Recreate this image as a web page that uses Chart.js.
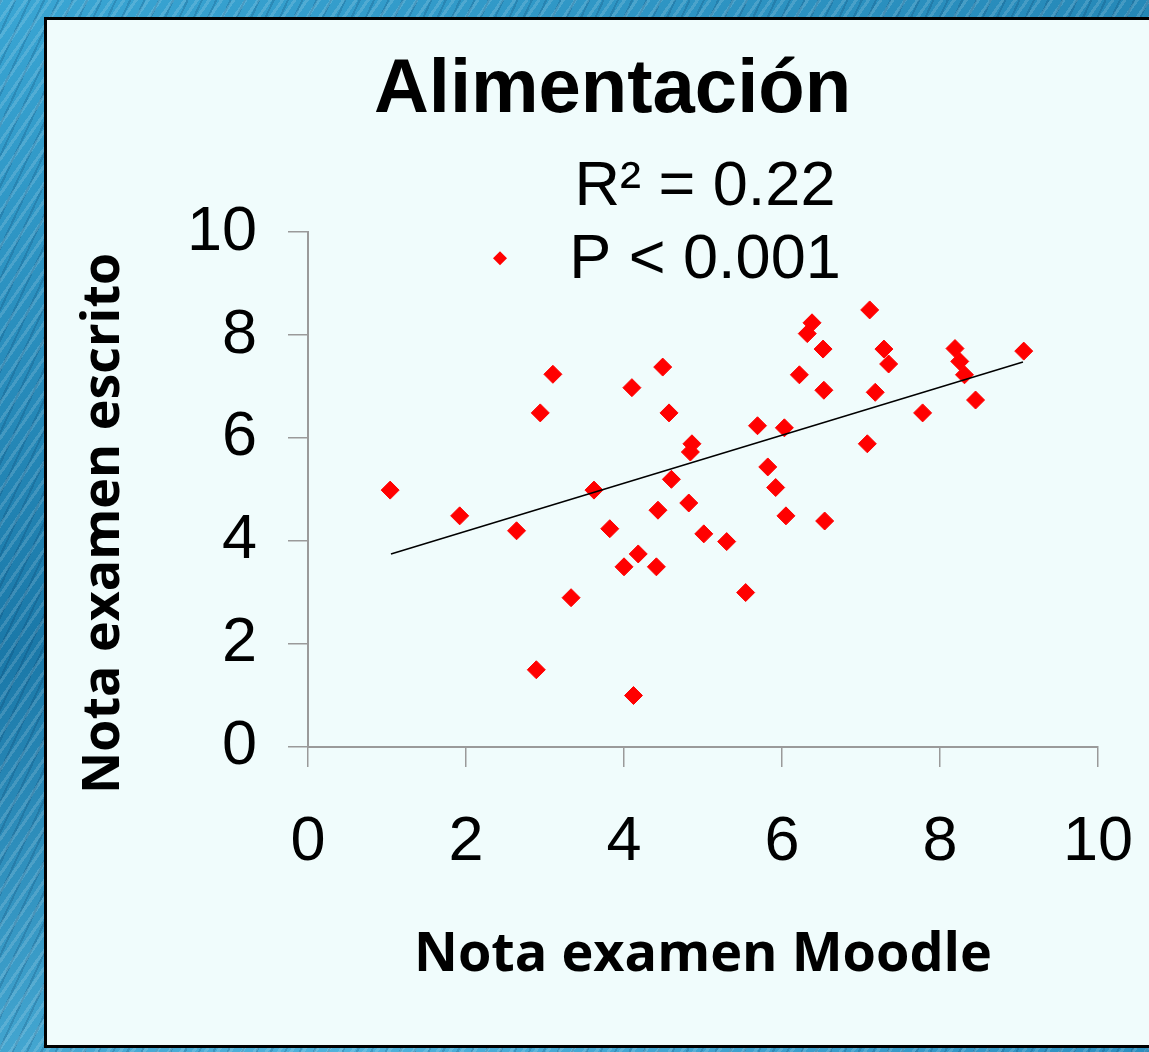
<!doctype html>
<html lang="es">
<head>
<meta charset="utf-8">
<title>Alimentación</title>
<style>
    html, body {
        margin: 0;
        width: 1149px;
        height: 1052px;
        overflow: hidden;
    }

    body {
        position: relative;
        background:
            repeating-linear-gradient(125deg, rgba(255, 255, 255, 0.14) 0 3px, rgba(0, 0, 0, 0) 3px 10px),
            repeating-linear-gradient(115deg, rgba(0, 40, 80, 0.18) 0 2px, rgba(0, 0, 0, 0) 2px 13px),
            linear-gradient(160deg, #3aa6d4, #1a78a8 45%, #4fb3dc 80%, #2b8fc0);
    }

    .panel {
        position: absolute;
        left: 44px;
        top: 17px;
        width: 1200px;
        height: 1025px;
        border: 3px solid #000;
        background: #F0FCFC;
    }

    #chart {
        position: absolute;
        left: 0;
        top: 0;
    }
</style>
</head>
<body>
<div class="panel"></div>
<canvas id="chart" width="1225" height="1052"></canvas>

<script src="https://cdn.jsdelivr.net/npm/chart.js"></script>
<script>
    // Nota examen Moodle (x) vs Nota examen escrito (y)
    const moodleX = [1.04, 1.92, 2.64, 2.94, 3.10, 3.33, 2.89, 3.62, 3.82, 4.00,
        4.18, 4.12, 4.10, 4.49, 4.57, 4.86, 4.84, 4.60, 4.43, 4.82,
        4.41, 5.01, 5.30, 5.54, 5.69, 6.03, 5.82, 5.92, 6.05, 6.54,
        6.22, 6.38, 6.32, 6.52, 6.53, 7.11, 7.29, 7.35, 7.18, 7.08,
        7.78, 8.19, 8.25, 8.31, 8.45, 9.06];
    const escritoY = [4.99, 4.49, 4.20, 6.49, 7.24, 2.90, 1.50, 4.99, 4.24, 3.50,
        3.75, 1.00, 6.98, 7.38, 6.49, 5.89, 5.73, 5.20, 4.60, 4.74,
        3.50, 4.14, 3.99, 3.00, 6.24, 6.20, 5.44, 5.04, 4.49, 4.39,
        7.23, 8.24, 8.03, 7.73, 6.93, 8.49, 7.73, 7.44, 6.89, 5.89,
        6.49, 7.74, 7.49, 7.23, 6.74, 7.69];

    // linear trendline end points
    const trendX = [1.05, 9.05];
    const trendY = [3.75, 7.48];

    const axisTicks = [0, 2, 4, 6, 8, 10];
    const legendLines = ['R² = 0.22', 'P < 0.001'];

    const points = moodleX.map((x, i) => ({ x: x, y: escritoY[i] }));
    const trend = trendX.map((x, i) => ({ x: x, y: trendY[i] }));

    Chart.defaults.font.family = '"Liberation Sans", Arial, sans-serif';
    Chart.defaults.color = '#000';

    // legend box: two text lines and a small marker
    const legendNote = {
        id: 'legendNote',
        afterDraw(chart) {
            const { ctx, chartArea } = chart;
            ctx.save();
            ctx.font = '63px "Liberation Sans", Arial, sans-serif';
            ctx.fillStyle = '#000';
            ctx.textAlign = 'center';
            ctx.textBaseline = 'alphabetic';
            const cx = chartArea.left + 397;
            ctx.fillText(legendLines[0], cx, chartArea.top - 27);
            ctx.fillText(legendLines[1], cx, chartArea.top + 46);
            const mx = chartArea.left + 192, my = chartArea.top + 26, r = 7;
            ctx.fillStyle = '#FF0000';
            ctx.beginPath();
            ctx.moveTo(mx - r, my);
            ctx.lineTo(mx, my - r);
            ctx.lineTo(mx + r, my);
            ctx.lineTo(mx, my + r);
            ctx.closePath();
            ctx.fill();
            ctx.restore();
        }
    };

    const axisColor = '#9a9a9a';

    let ctx = document.querySelector('#chart').getContext('2d');
    let chart = new Chart(ctx, {
        type: 'scatter',
        data: {
            datasets: [{
                type: 'line',
                label: 'Tendencia',
                data: trend,
                borderColor: '#000',
                borderWidth: 1.5,
                pointRadius: 0,
                fill: false
            }, {
                label: 'Alimentación',
                data: points,
                pointStyle: 'rectRot',
                pointRadius: 9,
                pointBackgroundColor: '#FF0000',
                pointBorderColor: '#FF0000',
                pointBorderWidth: 1
            }]
        },
        options: {
            responsive: false,
            animation: false,
            layout: { padding: 0 },
            plugins: {
                legend: { display: false },
                tooltip: { enabled: false },
                title: {
                    display: true,
                    text: 'Alimentación',
                    color: '#000',
                    font: { size: 76, weight: 'bold', lineHeight: 1.2 },
                    padding: { top: 45, bottom: 96 }
                }
            },
            scales: {
                x: {
                    type: 'linear',
                    min: 0,
                    max: 10,
                    afterBuildTicks: (s) => { s.ticks = axisTicks.map(v => ({ value: v })); },
                    afterFit: (s) => { s.height = 305; },
                    grid: {
                        drawOnChartArea: false,
                        drawTicks: true,
                        tickLength: 20,
                        color: axisColor,
                        lineWidth: 1.5
                    },
                    border: { display: true, color: axisColor, width: 2 },
                    ticks: {
                        padding: 38,
                        font: { size: 63 },
                        maxRotation: 0
                    },
                    title: {
                        display: true,
                        text: 'Nota examen Moodle',
                        font: { family: '"Open Sans", sans-serif', size: 54, weight: 'bold', lineHeight: 1.2 },
                        padding: { top: 0, bottom: 64 }
                    }
                },
                y: {
                    type: 'linear',
                    min: 0,
                    max: 10,
                    afterBuildTicks: (s) => { s.ticks = axisTicks.map(v => ({ value: v })); },
                    afterFit: (s) => { s.width = 308; },
                    grid: {
                        drawOnChartArea: false,
                        drawTicks: true,
                        tickLength: 20,
                        color: axisColor,
                        lineWidth: 1.5
                    },
                    border: { display: true, color: axisColor, width: 2 },
                    ticks: {
                        padding: 31,
                        font: { size: 63 }
                    },
                    title: {
                        display: true,
                        // trailing spaces push the rotated title a little lower, as in the original
                        text: 'Nota examen escrito     ',
                        font: { family: '"Open Sans", sans-serif', size: 52, weight: 'bold', lineHeight: 1.2 },
                        padding: { top: 73, bottom: 0 }
                    }
                },
                // empty spacer on the right so the title sits where it does in the original
                y2: {
                    type: 'linear',
                    position: 'right',
                    display: true,
                    grid: { display: false },
                    border: { display: false },
                    ticks: { display: false },
                    afterFit: (s) => { s.width = 127; }
                }
            }
        },
        plugins: [legendNote]
    });
</script>
</body>
</html>
